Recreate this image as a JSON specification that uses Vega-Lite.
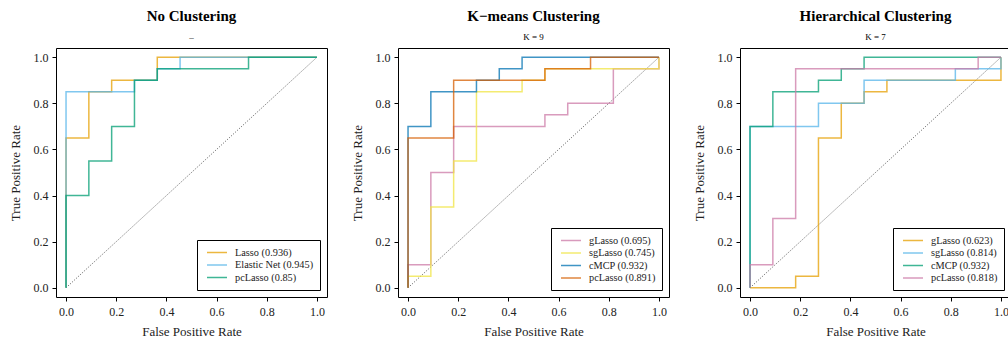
{
  "$schema": "https://vega.github.io/schema/vega-lite/v6.json",
  "padding": {"left": 8, "top": 8, "right": 0, "bottom": 0},
  "bounds": "flush",
  "spacing": 71,
  "background": "white",
  "datasets": {
    "diag": [{"x": 0, "y": 0, "i": 0}, {"x": 1, "y": 1, "i": 1}],
    "nc": [
      {"s": "Lasso (0.936)", "i": 0, "x": 0, "y": 0},
      {"s": "Lasso (0.936)", "i": 1, "x": 0, "y": 0.65},
      {"s": "Lasso (0.936)", "i": 2, "x": 0.0909, "y": 0.65},
      {"s": "Lasso (0.936)", "i": 3, "x": 0.0909, "y": 0.85},
      {"s": "Lasso (0.936)", "i": 4, "x": 0.1818, "y": 0.85},
      {"s": "Lasso (0.936)", "i": 5, "x": 0.1818, "y": 0.9},
      {"s": "Lasso (0.936)", "i": 6, "x": 0.3636, "y": 0.9},
      {"s": "Lasso (0.936)", "i": 7, "x": 0.3636, "y": 1},
      {"s": "Lasso (0.936)", "i": 8, "x": 1, "y": 1},
      {"s": "Elastic Net (0.945)", "i": 0, "x": 0, "y": 0},
      {"s": "Elastic Net (0.945)", "i": 1, "x": 0, "y": 0.85},
      {"s": "Elastic Net (0.945)", "i": 2, "x": 0.2727, "y": 0.85},
      {"s": "Elastic Net (0.945)", "i": 3, "x": 0.2727, "y": 0.9},
      {"s": "Elastic Net (0.945)", "i": 4, "x": 0.3636, "y": 0.9},
      {"s": "Elastic Net (0.945)", "i": 5, "x": 0.3636, "y": 0.95},
      {"s": "Elastic Net (0.945)", "i": 6, "x": 0.4545, "y": 0.95},
      {"s": "Elastic Net (0.945)", "i": 7, "x": 0.4545, "y": 1},
      {"s": "Elastic Net (0.945)", "i": 8, "x": 1, "y": 1},
      {"s": "pcLasso (0.85)", "i": 0, "x": 0, "y": 0},
      {"s": "pcLasso (0.85)", "i": 1, "x": 0, "y": 0.4},
      {"s": "pcLasso (0.85)", "i": 2, "x": 0.0909, "y": 0.4},
      {"s": "pcLasso (0.85)", "i": 3, "x": 0.0909, "y": 0.55},
      {"s": "pcLasso (0.85)", "i": 4, "x": 0.1818, "y": 0.55},
      {"s": "pcLasso (0.85)", "i": 5, "x": 0.1818, "y": 0.7},
      {"s": "pcLasso (0.85)", "i": 6, "x": 0.2727, "y": 0.7},
      {"s": "pcLasso (0.85)", "i": 7, "x": 0.2727, "y": 0.9},
      {"s": "pcLasso (0.85)", "i": 8, "x": 0.3636, "y": 0.9},
      {"s": "pcLasso (0.85)", "i": 9, "x": 0.3636, "y": 0.95},
      {"s": "pcLasso (0.85)", "i": 10, "x": 0.7273, "y": 0.95},
      {"s": "pcLasso (0.85)", "i": 11, "x": 0.7273, "y": 1},
      {"s": "pcLasso (0.85)", "i": 12, "x": 1, "y": 1}
    ],
    "km": [
      {"s": "gLasso (0.695)", "i": 0, "x": 0, "y": 0},
      {"s": "gLasso (0.695)", "i": 1, "x": 0, "y": 0.1},
      {"s": "gLasso (0.695)", "i": 2, "x": 0.0909, "y": 0.1},
      {"s": "gLasso (0.695)", "i": 3, "x": 0.0909, "y": 0.5},
      {"s": "gLasso (0.695)", "i": 4, "x": 0.1818, "y": 0.5},
      {"s": "gLasso (0.695)", "i": 5, "x": 0.1818, "y": 0.7},
      {"s": "gLasso (0.695)", "i": 6, "x": 0.5455, "y": 0.7},
      {"s": "gLasso (0.695)", "i": 7, "x": 0.5455, "y": 0.75},
      {"s": "gLasso (0.695)", "i": 8, "x": 0.6364, "y": 0.75},
      {"s": "gLasso (0.695)", "i": 9, "x": 0.6364, "y": 0.8},
      {"s": "gLasso (0.695)", "i": 10, "x": 0.8182, "y": 0.8},
      {"s": "gLasso (0.695)", "i": 11, "x": 0.8182, "y": 0.95},
      {"s": "gLasso (0.695)", "i": 12, "x": 1, "y": 0.95},
      {"s": "gLasso (0.695)", "i": 13, "x": 1, "y": 1},
      {"s": "sgLasso (0.745)", "i": 0, "x": 0, "y": 0},
      {"s": "sgLasso (0.745)", "i": 1, "x": 0, "y": 0.05},
      {"s": "sgLasso (0.745)", "i": 2, "x": 0.0909, "y": 0.05},
      {"s": "sgLasso (0.745)", "i": 3, "x": 0.0909, "y": 0.35},
      {"s": "sgLasso (0.745)", "i": 4, "x": 0.1818, "y": 0.35},
      {"s": "sgLasso (0.745)", "i": 5, "x": 0.1818, "y": 0.55},
      {"s": "sgLasso (0.745)", "i": 6, "x": 0.2727, "y": 0.55},
      {"s": "sgLasso (0.745)", "i": 7, "x": 0.2727, "y": 0.85},
      {"s": "sgLasso (0.745)", "i": 8, "x": 0.4545, "y": 0.85},
      {"s": "sgLasso (0.745)", "i": 9, "x": 0.4545, "y": 0.9},
      {"s": "sgLasso (0.745)", "i": 10, "x": 0.5455, "y": 0.9},
      {"s": "sgLasso (0.745)", "i": 11, "x": 0.5455, "y": 0.95},
      {"s": "sgLasso (0.745)", "i": 12, "x": 1, "y": 0.95},
      {"s": "sgLasso (0.745)", "i": 13, "x": 1, "y": 1},
      {"s": "cMCP (0.932)", "i": 0, "x": 0, "y": 0},
      {"s": "cMCP (0.932)", "i": 1, "x": 0, "y": 0.7},
      {"s": "cMCP (0.932)", "i": 2, "x": 0.0909, "y": 0.7},
      {"s": "cMCP (0.932)", "i": 3, "x": 0.0909, "y": 0.85},
      {"s": "cMCP (0.932)", "i": 4, "x": 0.2727, "y": 0.85},
      {"s": "cMCP (0.932)", "i": 5, "x": 0.2727, "y": 0.9},
      {"s": "cMCP (0.932)", "i": 6, "x": 0.3636, "y": 0.9},
      {"s": "cMCP (0.932)", "i": 7, "x": 0.3636, "y": 0.95},
      {"s": "cMCP (0.932)", "i": 8, "x": 0.4545, "y": 0.95},
      {"s": "cMCP (0.932)", "i": 9, "x": 0.4545, "y": 1},
      {"s": "cMCP (0.932)", "i": 10, "x": 1, "y": 1},
      {"s": "pcLasso (0.891)", "i": 0, "x": 0, "y": 0},
      {"s": "pcLasso (0.891)", "i": 1, "x": 0, "y": 0.65},
      {"s": "pcLasso (0.891)", "i": 2, "x": 0.1818, "y": 0.65},
      {"s": "pcLasso (0.891)", "i": 3, "x": 0.1818, "y": 0.9},
      {"s": "pcLasso (0.891)", "i": 4, "x": 0.5455, "y": 0.9},
      {"s": "pcLasso (0.891)", "i": 5, "x": 0.5455, "y": 0.95},
      {"s": "pcLasso (0.891)", "i": 6, "x": 0.7273, "y": 0.95},
      {"s": "pcLasso (0.891)", "i": 7, "x": 0.7273, "y": 1},
      {"s": "pcLasso (0.891)", "i": 8, "x": 1, "y": 1}
    ],
    "hc": [
      {"s": "gLasso (0.623)", "i": 0, "x": 0, "y": 0},
      {"s": "gLasso (0.623)", "i": 1, "x": 0.1818, "y": 0},
      {"s": "gLasso (0.623)", "i": 2, "x": 0.1818, "y": 0.05},
      {"s": "gLasso (0.623)", "i": 3, "x": 0.2727, "y": 0.05},
      {"s": "gLasso (0.623)", "i": 4, "x": 0.2727, "y": 0.65},
      {"s": "gLasso (0.623)", "i": 5, "x": 0.3636, "y": 0.65},
      {"s": "gLasso (0.623)", "i": 6, "x": 0.3636, "y": 0.8},
      {"s": "gLasso (0.623)", "i": 7, "x": 0.4545, "y": 0.8},
      {"s": "gLasso (0.623)", "i": 8, "x": 0.4545, "y": 0.85},
      {"s": "gLasso (0.623)", "i": 9, "x": 0.5455, "y": 0.85},
      {"s": "gLasso (0.623)", "i": 10, "x": 0.5455, "y": 0.9},
      {"s": "gLasso (0.623)", "i": 11, "x": 1, "y": 0.9},
      {"s": "gLasso (0.623)", "i": 12, "x": 1, "y": 1},
      {"s": "sgLasso (0.814)", "i": 0, "x": 0, "y": 0},
      {"s": "sgLasso (0.814)", "i": 1, "x": 0, "y": 0.7},
      {"s": "sgLasso (0.814)", "i": 2, "x": 0.2727, "y": 0.7},
      {"s": "sgLasso (0.814)", "i": 3, "x": 0.2727, "y": 0.8},
      {"s": "sgLasso (0.814)", "i": 4, "x": 0.4545, "y": 0.8},
      {"s": "sgLasso (0.814)", "i": 5, "x": 0.4545, "y": 0.9},
      {"s": "sgLasso (0.814)", "i": 6, "x": 0.8182, "y": 0.9},
      {"s": "sgLasso (0.814)", "i": 7, "x": 0.8182, "y": 0.95},
      {"s": "sgLasso (0.814)", "i": 8, "x": 1, "y": 0.95},
      {"s": "sgLasso (0.814)", "i": 9, "x": 1, "y": 1},
      {"s": "cMCP (0.932)", "i": 0, "x": 0, "y": 0},
      {"s": "cMCP (0.932)", "i": 1, "x": 0, "y": 0.7},
      {"s": "cMCP (0.932)", "i": 2, "x": 0.0909, "y": 0.7},
      {"s": "cMCP (0.932)", "i": 3, "x": 0.0909, "y": 0.85},
      {"s": "cMCP (0.932)", "i": 4, "x": 0.2727, "y": 0.85},
      {"s": "cMCP (0.932)", "i": 5, "x": 0.2727, "y": 0.9},
      {"s": "cMCP (0.932)", "i": 6, "x": 0.3636, "y": 0.9},
      {"s": "cMCP (0.932)", "i": 7, "x": 0.3636, "y": 0.95},
      {"s": "cMCP (0.932)", "i": 8, "x": 0.4545, "y": 0.95},
      {"s": "cMCP (0.932)", "i": 9, "x": 0.4545, "y": 1},
      {"s": "cMCP (0.932)", "i": 10, "x": 1, "y": 1},
      {"s": "pcLasso (0.818)", "i": 0, "x": 0, "y": 0},
      {"s": "pcLasso (0.818)", "i": 1, "x": 0, "y": 0.1},
      {"s": "pcLasso (0.818)", "i": 2, "x": 0.0909, "y": 0.1},
      {"s": "pcLasso (0.818)", "i": 3, "x": 0.0909, "y": 0.3},
      {"s": "pcLasso (0.818)", "i": 4, "x": 0.1818, "y": 0.3},
      {"s": "pcLasso (0.818)", "i": 5, "x": 0.1818, "y": 0.95},
      {"s": "pcLasso (0.818)", "i": 6, "x": 0.9091, "y": 0.95},
      {"s": "pcLasso (0.818)", "i": 7, "x": 0.9091, "y": 1},
      {"s": "pcLasso (0.818)", "i": 8, "x": 1, "y": 1}
    ]
  },
  "config": {
    "font": "Liberation Serif",
    "view": {"stroke": "black", "strokeWidth": 1},
    "title": {"font": "Liberation Serif", "fontSize": 15, "fontWeight": "bold", "color": "black", "anchor": "middle", "offset": 6.2, "subtitleFont": "Liberation Serif", "subtitleFontSize": 9, "subtitleColor": "black", "subtitlePadding": 8.8},
    "axis": {"grid": false, "domain": false, "tickColor": "black", "tickSize": 4, "labelFont": "Liberation Serif", "labelFontSize": 12, "labelColor": "#222", "titleFont": "Liberation Serif", "titleFontSize": 13, "titleFontWeight": "normal", "titleColor": "#222", "labelPadding": 4},
    "axisX": {"titlePadding": 8, "labelPadding": 5.5},
    "axisY": {"titlePadding": 11},
    "legend": {"orient": "bottom-right", "offset": 7, "strokeColor": "black", "fillColor": "white", "padding": 6.5, "symbolOffset": 7.5, "labelFont": "Liberation Serif", "labelFontSize": 10.3, "labelColor": "#222", "symbolType": "M-2,0H2", "symbolSize": 100, "symbolStrokeWidth": 1.5, "symbolOpacity": 0.75, "rowPadding": 0.5, "labelOffset": 12}
  },
  "resolve": {"scale": {"color": "independent"}, "legend": {"color": "independent"}},
  "hconcat": [
    {
      "width": 271, "height": 249,
      "title": {"text": "No Clustering", "subtitle": "–"},
      "layer": [
        {
          "data": {"name": "diag"},
          "mark": {"type": "line", "color": "#333", "strokeWidth": 0.7, "strokeDash": [1.2, 1.5]},
          "encoding": {
            "x": {"field": "x", "type": "quantitative", "scale": {"domain": [-0.04, 1.04], "nice": false, "zero": false}, "axis": {"values": [0, 0.2, 0.4, 0.6, 0.8, 1], "format": ".1f", "title": "False Positive Rate"}},
            "y": {"field": "y", "type": "quantitative", "scale": {"domain": [-0.04, 1.04], "nice": false, "zero": false}, "axis": {"values": [0, 0.2, 0.4, 0.6, 0.8, 1], "format": ".1f", "title": "True Positive Rate"}},
            "order": {"field": "i"}
          }
        },
        {
          "data": {"name": "nc"},
          "mark": {"type": "line", "strokeWidth": 1.5, "opacity": 0.75},
          "encoding": {
            "x": {"field": "x", "type": "quantitative"},
            "y": {"field": "y", "type": "quantitative"},
            "order": {"field": "i"},
            "color": {"field": "s", "type": "nominal", "scale": {"domain": ["Lasso (0.936)", "Elastic Net (0.945)", "pcLasso (0.85)"], "range": ["#E69F00", "#56B4E9", "#009E73"]}, "legend": {"title": null}}
          }
        }
      ]
    },
    {
      "width": 271, "height": 249,
      "title": {"text": "K−means Clustering", "subtitle": "K = 9"},
      "layer": [
        {
          "data": {"name": "diag"},
          "mark": {"type": "line", "color": "#333", "strokeWidth": 0.7, "strokeDash": [1.2, 1.5]},
          "encoding": {
            "x": {"field": "x", "type": "quantitative", "scale": {"domain": [-0.04, 1.04], "nice": false, "zero": false}, "axis": {"values": [0, 0.2, 0.4, 0.6, 0.8, 1], "format": ".1f", "title": "False Positive Rate"}},
            "y": {"field": "y", "type": "quantitative", "scale": {"domain": [-0.04, 1.04], "nice": false, "zero": false}, "axis": {"values": [0, 0.2, 0.4, 0.6, 0.8, 1], "format": ".1f", "title": "True Positive Rate"}},
            "order": {"field": "i"}
          }
        },
        {
          "data": {"name": "km"},
          "mark": {"type": "line", "strokeWidth": 1.5, "opacity": 0.75},
          "encoding": {
            "x": {"field": "x", "type": "quantitative"},
            "y": {"field": "y", "type": "quantitative"},
            "order": {"field": "i"},
            "color": {"field": "s", "type": "nominal", "scale": {"domain": ["gLasso (0.695)", "sgLasso (0.745)", "cMCP (0.932)", "pcLasso (0.891)"], "range": ["#CC79A7", "#F0E442", "#0072B2", "#D55E00"]}, "legend": {"title": null}}
          }
        }
      ]
    },
    {
      "width": 271, "height": 249,
      "title": {"text": "Hierarchical Clustering", "subtitle": "K = 7"},
      "layer": [
        {
          "data": {"name": "diag"},
          "mark": {"type": "line", "color": "#333", "strokeWidth": 0.7, "strokeDash": [1.2, 1.5]},
          "encoding": {
            "x": {"field": "x", "type": "quantitative", "scale": {"domain": [-0.04, 1.04], "nice": false, "zero": false}, "axis": {"values": [0, 0.2, 0.4, 0.6, 0.8, 1], "format": ".1f", "title": "False Positive Rate"}},
            "y": {"field": "y", "type": "quantitative", "scale": {"domain": [-0.04, 1.04], "nice": false, "zero": false}, "axis": {"values": [0, 0.2, 0.4, 0.6, 0.8, 1], "format": ".1f", "title": "True Positive Rate"}},
            "order": {"field": "i"}
          }
        },
        {
          "data": {"name": "hc"},
          "mark": {"type": "line", "strokeWidth": 1.5, "opacity": 0.75},
          "encoding": {
            "x": {"field": "x", "type": "quantitative"},
            "y": {"field": "y", "type": "quantitative"},
            "order": {"field": "i"},
            "color": {"field": "s", "type": "nominal", "scale": {"domain": ["gLasso (0.623)", "sgLasso (0.814)", "cMCP (0.932)", "pcLasso (0.818)"], "range": ["#E69F00", "#56B4E9", "#009E73", "#CC79A7"]}, "legend": {"title": null}}
          }
        }
      ]
    }
  ]
}
